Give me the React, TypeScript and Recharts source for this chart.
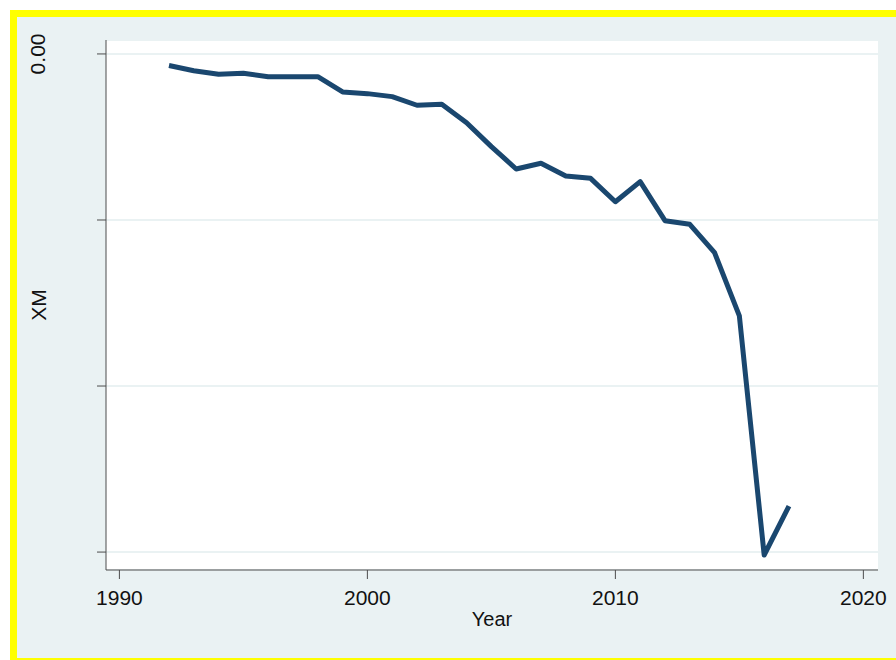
import { LineChart, Line, XAxis, YAxis, CartesianGrid } from 'recharts'

const YEARS = [
  1992, 1993, 1994, 1995, 1996, 1997, 1998, 1999, 2000, 2001, 2002, 2003, 2004,
  2005, 2006, 2007, 2008, 2009, 2010, 2011, 2012, 2013, 2014, 2015, 2016, 2017,
]
const XM = [
  -0.07, -0.101, -0.122, -0.116, -0.137, -0.137, -0.137, -0.229, -0.239, -0.257, -0.309, -0.303, -0.414,
  -0.558, -0.693, -0.658, -0.735, -0.749, -0.89, -0.769, -1.004, -1.026, -1.197, -1.578, -3.018, -2.723,
]
const X_TICKS = [1990, 2000, 2010, 2020]
const Y_TICKS = [-3, -2, -1, 0]
const Y_TICK_LABELS: Record<number, string> = { 0: '0.00' }

const FONT = '"Liberation Sans", Arial, sans-serif'
const BG = '#eaf2f3'
const AXIS = '#4d4d4d'
const YELLOW = '#ffff00'

const data = YEARS.map((year, i) => ({ year, xm: XM[i] }))

function XTick(props: any) {
  const { x, y, payload } = props
  return (
    <text x={x} y={y} dy={24} textAnchor="middle" fontSize={21} fontFamily={FONT} fill="#111">
      {payload.value}
    </text>
  )
}

function YTick(props: any) {
  const { y, payload } = props
  const label = Y_TICK_LABELS[payload.value]
  if (!label) return null
  return (
    <text
      x={45}
      y={y}
      textAnchor="middle"
      fontSize={21}
      fontFamily={FONT}
      fill="#111"
      transform={`rotate(-90, 45, ${y})`}
    >
      {label}
    </text>
  )
}

const box = (left: number, top: number, width: number, height: number, background: string) => (
  <div style={{ position: 'absolute', left, top, width, height, background }} />
)

export default function App() {
  return (
    <div style={{ position: 'fixed', left: 0, top: 0, width: 896, height: 660, overflow: 'hidden', background: '#fff' }}>
      {box(17, 17, 879, 641, BG)}
      {box(10, 10, 886, 7, YELLOW)}
      {box(10, 10, 7, 650, YELLOW)}
      {box(10, 658, 886, 2, YELLOW)}
      <div style={{ position: 'absolute', left: 0, top: 0 }}>
        <LineChart width={896} height={660} data={data} margin={{ top: 40, right: 18, bottom: 30, left: 0 }}>
          <CartesianGrid vertical={false} fill="#fff" stroke={BG} strokeWidth={2} />
          <XAxis
            dataKey="year"
            type="number"
            domain={[1989.46, 2020.59]}
            ticks={X_TICKS}
            allowDataOverflow
            height={60}
            stroke={AXIS}
            tickSize={9}
            tick={<XTick />}
            label={{
              content: (p: any) => {
                const vb = p.viewBox
                return (
                  <text x={vb.x + vb.width / 2} y={vb.y + 56} textAnchor="middle" fontSize={20} fontFamily={FONT} fill="#111">
                    Year
                  </text>
                )
              },
            }}
          />
          <YAxis
            type="number"
            domain={[-3.108, 0.084]}
            ticks={Y_TICKS}
            allowDataOverflow
            width={106}
            stroke={AXIS}
            tickSize={9}
            tick={<YTick />}
            label={{
              content: (p: any) => {
                const vb = p.viewBox
                const cy = vb.y + vb.height / 2
                return (
                  <text
                    x={45.5}
                    y={cy}
                    textAnchor="middle"
                    fontSize={21}
                    fontFamily={FONT}
                    fill="#111"
                    transform={`rotate(-90, 45.5, ${cy})`}
                  >
                    XM
                  </text>
                )
              },
            }}
          />
          <Line
            type="linear"
            dataKey="xm"
            stroke="#1a476f"
            strokeWidth={5}
            dot={false}
            isAnimationActive={false}
            strokeLinejoin="round"
          />
        </LineChart>
      </div>
    </div>
  )
}
